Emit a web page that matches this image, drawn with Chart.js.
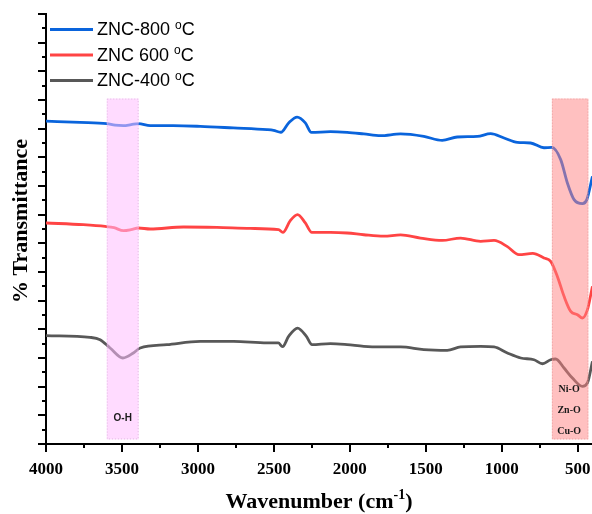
<!DOCTYPE html>
<html>
<head>
<meta charset="utf-8">
<script src="https://cdn.jsdelivr.net/npm/chart.js@4.4.1/dist/chart.umd.min.js"></script>
<style>
    html, body { margin: 0; padding: 0; background: #fff; overflow: hidden; }
</style>
</head>
<body>
<canvas id="ftir" width="592" height="514"></canvas>
<script>
/* ==========================================================================
   FTIR spectra - ZNC samples
   ========================================================================== */

const sampleNames = ['ZNC-800', 'ZNC 600', 'ZNC-400'];
const tempUnit = 'oC';

// wavenumber (cm-1) / transmittance (arb. units, offset per sample)
const wn800 = [4000, 3776, 3600, 3545, 3490, 3440, 3392, 3314, 3163, 2985, 2767, 2545, 2502, 2454, 2403, 2347, 2293, 2253, 2128, 2018, 1908, 1798, 1666, 1513, 1392, 1293, 1161, 1073, 985, 897, 810, 722, 671, 612, 568, 524, 469, 440, 403];
const t800 = [22.52, 22.44, 22.35, 22.24, 22.21, 22.28, 22.35, 22.21, 22.21, 22.16, 22.05, 21.93, 21.88, 21.75, 22.40, 22.81, 22.40, 21.74, 21.79, 21.74, 21.63, 21.51, 21.63, 21.46, 21.18, 21.42, 21.46, 21.65, 21.35, 21.04, 21.00, 20.67, 20.69, 19.84, 18.21, 17.05, 16.77, 17.05, 18.67];

const wn600 = [4000, 3754, 3611, 3552, 3490, 3440, 3392, 3314, 3095, 2875, 2655, 2469, 2441, 2392, 2344, 2293, 2250, 2128, 2018, 1908, 1777, 1666, 1535, 1392, 1271, 1139, 1051, 963, 887, 796, 722, 678, 634, 590, 546, 502, 469, 436, 403];
const t600 = [15.42, 15.30, 15.18, 15.09, 14.88, 14.95, 15.07, 15.00, 15.14, 15.11, 15.04, 14.95, 14.76, 15.58, 16.00, 15.42, 14.76, 14.76, 14.72, 14.60, 14.50, 14.59, 14.37, 14.20, 14.37, 14.14, 14.20, 13.77, 13.21, 13.30, 12.98, 12.74, 11.69, 10.30, 9.25, 9.02, 8.79, 9.37, 11.00];

const wn400 = [4000, 3710, 3644, 3578, 3494, 3425, 3380, 3204, 2985, 2765, 2545, 2471, 2443, 2403, 2344, 2286, 2249, 2128, 2018, 1908, 1798, 1666, 1513, 1359, 1271, 1139, 1051, 963, 875, 788, 732, 678, 645, 590, 535, 469, 436, 403];
const t400 = [7.56, 7.44, 7.28, 6.70, 6.00, 6.35, 6.70, 6.93, 7.16, 7.16, 7.05, 7.05, 6.79, 7.51, 8.09, 7.51, 6.93, 7.00, 6.93, 6.81, 6.77, 6.77, 6.58, 6.53, 6.77, 6.81, 6.77, 6.35, 6.00, 5.88, 5.60, 5.88, 5.93, 5.30, 4.60, 4.02, 4.26, 5.76];

// axis ticks
const xTicks = [4000, 3500, 3000, 2500, 2000, 1500, 1000, 500];
const xMinorTicks = [3750, 3250, 2750, 2250, 1750, 1250, 750];

// highlighted bands: [from, to] in cm-1 and their assignments
const bandRanges = [[3600, 3390], [670, 430]];
const bandLabels = [['O-H'], ['Ni-O', 'Zn-O', 'Cu-O']];

const lineColors = ['#0a64dc', '#ff4444', '#585858'];

function toPoints(xs, ys) {
    return xs.map((v, i) => ({ x: v, y: ys[i] }));
}

/* ==========================================================================
   Decorations: bands, minor ticks, legend, titles
   ========================================================================== */

const decorPlugin = {
    id: 'decor',
    afterDatasetsDraw(chart) {
        const { ctx, scales: { x, y } } = chart;
        const fills = ['rgba(255, 190, 255, 0.55)', 'rgba(255, 130, 130, 0.5)'];
        const edges = ['#e0b8e0', '#eaa0a0'];
        const top = y.getPixelForValue(24.1);
        const bottom = y.getPixelForValue(0.32);

        ctx.save();
        bandRanges.forEach((r, i) => {
            const x0 = x.getPixelForValue(r[0]);
            const x1 = x.getPixelForValue(r[1]);
            ctx.fillStyle = fills[i];
            ctx.fillRect(x0, top, x1 - x0, bottom - top);
            ctx.setLineDash([1, 2]);
            ctx.strokeStyle = edges[i];
            ctx.lineWidth = 1;
            ctx.strokeRect(x0 + 0.5, top + 0.5, x1 - x0 - 1, bottom - top - 1);
            ctx.setLineDash([]);
        });

        // band labels
        ctx.fillStyle = '#1a1a1a';
        ctx.textAlign = 'center';
        ctx.textBaseline = 'middle';
        const ohX = x.getPixelForValue((bandRanges[0][0] + bandRanges[0][1]) / 2);
        ctx.font = 'bold 10px "Liberation Sans"';
        ctx.fillText(bandLabels[0][0], ohX, 418);
        const moX = x.getPixelForValue((bandRanges[1][0] + bandRanges[1][1]) / 2) - 1;
        ctx.font = 'bold 10px "Liberation Serif"';
        bandLabels[1].forEach((t, i) => ctx.fillText(t, moX, 389 + i * 21));
        ctx.restore();
    },
    afterDraw(chart) {
        const { ctx, chartArea: a, scales: { x, y } } = chart;
        ctx.save();

        // minor ticks
        ctx.strokeStyle = '#000';
        ctx.lineWidth = 2;
        ctx.beginPath();
        xMinorTicks.forEach(v => {
            const px = Math.round(x.getPixelForValue(v));
            ctx.moveTo(px, a.bottom);
            ctx.lineTo(px, a.bottom + 4);
        });
        for (let v = 1; v < 30; v += 2) {
            const py = Math.round(y.getPixelForValue(v));
            ctx.moveTo(a.left - 4, py);
            ctx.lineTo(a.left, py);
        }
        ctx.stroke();

        // legend
        ctx.textBaseline = 'middle';
        ctx.textAlign = 'left';
        sampleNames.forEach((name, i) => {
            const ly = 29.5 + i * 25.5;
            ctx.strokeStyle = lineColors[i];
            ctx.lineWidth = 3;
            ctx.beginPath();
            ctx.moveTo(50, ly);
            ctx.lineTo(93, ly);
            ctx.stroke();

            ctx.fillStyle = '#000';
            ctx.font = '18px "Liberation Sans"';
            const head = name + ' ';
            ctx.fillText(head, 97, ly + 1);
            let tx = 97 + ctx.measureText(head).width;
            ctx.font = '12px "Liberation Sans"';
            ctx.fillText(tempUnit[0], tx, ly - 4);
            tx += ctx.measureText(tempUnit[0]).width;
            ctx.font = '18px "Liberation Sans"';
            ctx.fillText(tempUnit[1], tx, ly + 1);
        });

        // x title with superscript
        ctx.fillStyle = '#000';
        ctx.textBaseline = 'alphabetic';
        const bigFont = 'bold 22px "Liberation Serif"';
        const supFont = 'bold 14px "Liberation Serif"';
        const parts = [['Wavenumber (cm', bigFont, 0], ['-1', supFont, -9], [')', bigFont, 0]];
        let total = 0;
        parts.forEach(p => { ctx.font = p[1]; total += ctx.measureText(p[0]).width; });
        let tx = (a.left + a.right) / 2 - total / 2;
        parts.forEach(p => {
            ctx.font = p[1];
            ctx.fillText(p[0], tx, 508 + p[2]);
            tx += ctx.measureText(p[0]).width;
        });

        // y title
        ctx.translate(27, 221);
        ctx.rotate(-Math.PI / 2);
        ctx.textAlign = 'center';
        ctx.font = bigFont;
        ctx.fillText('% Transmittance', 0, 0);
        ctx.restore();
    }
};

/* ==========================================================================
   Chart
   ========================================================================== */

const ctx = document.getElementById('ftir').getContext('2d');

new Chart(ctx, {
    type: 'line',
    data: {
        datasets: [
            { label: sampleNames[0] + ' ' + tempUnit, data: toPoints(wn800, t800) },
            { label: sampleNames[1] + ' ' + tempUnit, data: toPoints(wn600, t600) },
            { label: sampleNames[2] + ' ' + tempUnit, data: toPoints(wn400, t400) }
        ].map((d, i) => Object.assign(d, {
            borderColor: lineColors[i],
            borderWidth: 2.8,
            pointRadius: 0,
            fill: false,
            cubicInterpolationMode: 'monotone'
        }))
    },
    options: {
        responsive: false,
        animation: false,
        layout: { padding: { top: 14, right: 0, left: 0, bottom: 0 } },
        plugins: {
            legend: { display: false },
            tooltip: { enabled: false }
        },
        scales: {
            x: {
                type: 'linear',
                reverse: true,
                min: 406,
                max: 4000,
                afterBuildTicks: scale => {
                    scale.ticks = xTicks.map(v => ({ value: v }));
                },
                afterFit: scale => {
                    scale.height = 70;
                    scale.paddingLeft = 0;
                    scale.paddingRight = 0;
                },
                border: { display: true, color: '#000', width: 2 },
                grid: {
                    display: true,
                    drawOnChartArea: false,
                    drawTicks: true,
                    tickLength: 8,
                    color: '#000',
                    lineWidth: 2
                },
                ticks: {
                    autoSkip: false,
                    maxRotation: 0,
                    padding: 7,
                    color: '#000',
                    font: { family: "'Liberation Serif'", weight: 'bold', size: 17 },
                    callback: v => String(v)
                }
            },
            y: {
                min: 0,
                max: 30,
                afterFit: scale => { scale.width = 46; },
                border: { display: true, color: '#000', width: 2 },
                grid: {
                    display: true,
                    drawOnChartArea: false,
                    drawTicks: true,
                    tickLength: 8,
                    color: '#000',
                    lineWidth: 2
                },
                ticks: { display: false, stepSize: 2 }
            }
        }
    },
    plugins: [decorPlugin]
});
</script>
</body>
</html>
